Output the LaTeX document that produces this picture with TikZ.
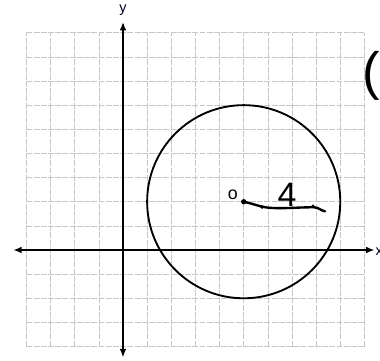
\documentclass[tikz,border=0pt]{standalone}
\usepackage{fontspec}
\setmainfont{Liberation Sans}
\usetikzlibrary{arrows.meta}

\begin{document}
\begin{tikzpicture}[
        gridline/.style={gray!45, line width=0.8pt, dash pattern=on 7pt off 1.5pt},
        axis/.style={line width=2.6pt, {Latex[length=10pt,width=8pt]}-{Latex[length=10pt,width=8pt]}},
        curve/.style={line width=2.2pt},
        hand/.style={line width=2.8pt, line cap=round},
        axislabel/.style={font=\fontsize{17}{19}\selectfont, text=black!85!blue, inner sep=1pt},
        handlabel/.style={inner sep=0pt}
    ]
    \useasboundingbox (-5.095,-4.557) rectangle (10.646,10.356);

    % Grid
    \draw[gridline] (-4,-4) grid (10,9);

    % Axes
    \draw[axis] (-4.55,0) -- (10.42,0);
    \draw[axis] (0,-4.45) -- (0,9.45);
    \node[axislabel, anchor=west] (xlab) at (10.42,-0.05) {x};
    \node[axislabel] (ylab) at (0,9.95) {y};

    % Circle
    \coordinate (center) at (5,2);
    \draw[curve] (center) circle (4);

    % Radius, drawn by hand
    \coordinate (rend) at (8.37,1.6);
    \draw[hand] (center) to[out=-12,in=178] (6.2,1.74) to[out=-2,in=180] (7.9,1.77) to[out=0,in=168] (rend);
    \fill (center) circle (0.11);
    \fill (5.76,1.78) circle (0.08);
    \fill (7.87,1.81) circle (0.08);

    % Labels
    \node[handlabel] (olab) at (4.55,2.3) {\fontsize{21}{23}\selectfont o};
    \node[handlabel] (rlab) at (6.8,2.3) {\fontsize{40}{44}\selectfont 4};
    \node[handlabel, anchor=west] (paren) at (9.9,7.2) {\fontsize{62}{66}\selectfont (};
\end{tikzpicture}
\end{document}
